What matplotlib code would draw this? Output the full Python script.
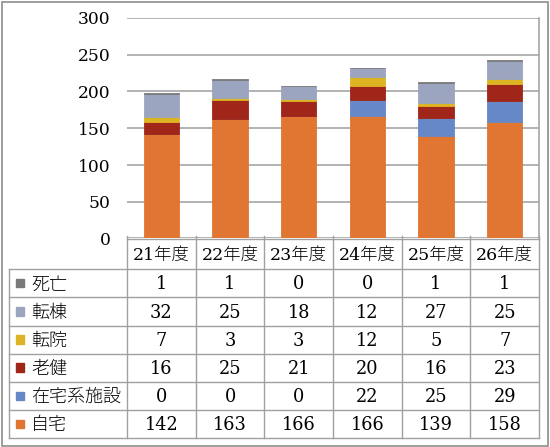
import matplotlib
matplotlib.use("Agg")
import matplotlib.pyplot as plt
from matplotlib.patches import Rectangle
from matplotlib.lines import Line2D

years = ["21年度", "22年度", "23年度", "24年度", "25年度", "26年度"]
# series from bottom to top
series_names = ["自宅", "在宅系施設", "老健", "転院", "転棟", "死亡"]
jitaku = [142, 163, 166, 166, 139, 158]
zaitaku = [0, 0, 0, 22, 25, 29]
roken = [16, 25, 21, 20, 16, 23]
tenin = [7, 3, 3, 12, 5, 7]
tento = [32, 25, 18, 12, 27, 25]
shibo = [1, 1, 0, 0, 1, 1]
series_values = [jitaku, zaitaku, roken, tenin, tento, shibo]
colors = ["#E07632", "#6688C6", "#A0261A", "#DDB424", "#9BA5BF", "#7A7A7A"]
yticks = [0, 50, 100, 150, 200, 250, 300]

W, H = 550, 447
fig = plt.figure(figsize=(W / 100, H / 100), dpi=100)

NUMFONT = ["DejaVu Serif", "Noto Sans CJK JP"]
CJKFONT = ["Noto Sans CJK JP", "DejaVu Sans"]

# layout in pixels
x0, x1 = 127, 539
y_top, y_zero = 18, 238.5

ax = fig.add_axes([x0 / W, 1 - y_zero / H, (x1 - x0) / W, (y_zero - y_top) / H])
n = len(years)
xs = list(range(n))
bottom = [0] * n
for vals, c in zip(series_values, colors):
    ax.bar(xs, vals, width=0.51, bottom=bottom, color=c, zorder=3,
           edgecolor=c, linewidth=0.6)
    bottom = [b + v for b, v in zip(bottom, vals)]
ax.set_xlim(-0.5, n - 0.5)
ax.set_ylim(0, 300)
ax.set_yticks(yticks)
ax.set_yticklabels([str(t) for t in yticks], fontfamily="DejaVu Serif", fontsize=12.3)
ax.tick_params(axis="y", length=0, pad=12)
ax.set_xticks([])
ax.yaxis.grid(True, color="#A6A6A6", linewidth=1.2, zorder=0)
for s in ["left", "top", "bottom"]:
    ax.spines[s].set_visible(False)
ax.spines["right"].set_color("#A6A6A6")
ax.spines["right"].set_linewidth(1.2)

# table overlay in pixel coordinates
tax = fig.add_axes([0, 0, 1, 1])
tax.set_xlim(0, W)
tax.set_ylim(H, 0)
tax.axis("off")
tax.patch.set_alpha(0)

lc = "#A0A0A0"
lw = 1.0
col_w = (x1 - x0) / n
hdr_top, hdr_bot = 239.3, 269.3
row_h = (438.3 - 269.3) / 6
left = 9.3
row_edges = [hdr_bot + i * row_h for i in range(7)]
bottom_y = row_edges[-1]

# horizontal lines
tax.add_line(Line2D([x0, x1], [hdr_top, hdr_top], color=lc, lw=lw))
for y in row_edges:
    tax.add_line(Line2D([left, x1], [y, y], color=lc, lw=lw))
# vertical lines
tax.add_line(Line2D([left, left], [hdr_bot, bottom_y], color=lc, lw=lw))
for k in range(n + 1):
    xv = x0 + k * col_w
    tax.add_line(Line2D([xv, xv], [hdr_top - 3, bottom_y], color=lc, lw=lw))

# header
for k, yr in enumerate(years):
    tax.text(x0 + (k + 0.5) * col_w, (hdr_top + hdr_bot) / 2 + 1, yr,
             ha="center", va="center", fontsize=12.5, family=NUMFONT,
             fontweight="light")

# rows, top to bottom: reversed series order
for r, idx in enumerate(reversed(range(len(series_names)))):
    yc = (row_edges[r] + row_edges[r + 1]) / 2
    tax.add_patch(Rectangle((15.5, yc - 4.5), 8.5, 8.5, color=colors[idx]))
    tax.text(31, yc + 1, series_names[idx], ha="left", va="center",
             fontsize=13, family=CJKFONT, fontweight="light")
    for k in range(n):
        tax.text(x0 + (k + 0.5) * col_w, yc + 1, str(series_values[idx][k]),
                 ha="center", va="center", fontsize=12.8, family=NUMFONT)

# outer frame
tax.add_patch(Rectangle((2, 2), W - 4.5, H - 3.5, fill=False, edgecolor="#8C8C8C", lw=1.2))

fig.savefig("out.png", dpi=100)
